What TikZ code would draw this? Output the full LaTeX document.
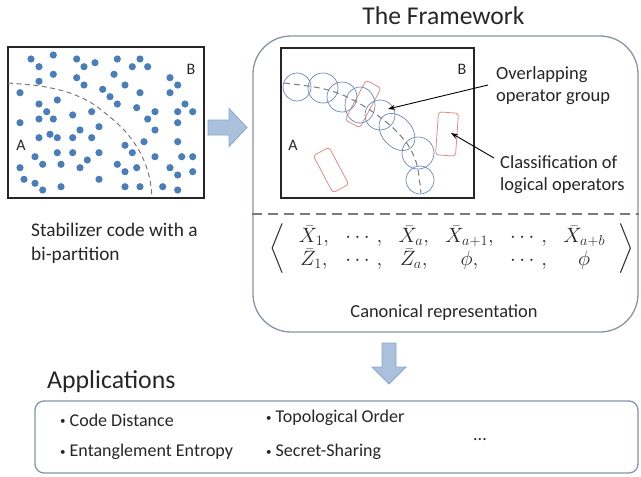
\documentclass[tikz,border=0pt]{standalone}
\usepackage[no-math]{fontspec}
\setmainfont{Carlito}
\usepackage{amsmath}
\definecolor{dotblue}{HTML}{4A7EBB}
\definecolor{circblue}{HTML}{6A88BD}
\definecolor{opred}{HTML}{E58A8A}
\definecolor{framegray}{HTML}{8594A6}
\definecolor{arrfill}{HTML}{A9C1DD}
\definecolor{arrdraw}{HTML}{8AA5C8}
\definecolor{dashgray}{HTML}{7A7A7A}
\definecolor{txt}{HTML}{262626}
\newcommand{\bul}{\raisebox{1.5pt}{\fontsize{11}{11}\selectfont•}\hspace{4pt}}
\tikzset{
  blackbox/.style={draw=black!85, line width=1.1pt},
  bigframe/.style={draw=framegray, line width=1.3pt},
  qdot/.style={fill=dotblue},
  opcirc/.style={draw=circblue, line width=0.7pt},
  oprect/.style={draw=opred, line width=0.8pt, rounded corners=3pt, minimum width=#1, inner sep=0pt},
  blockarrow/.style={fill=arrfill, draw=arrdraw, line width=0.8pt},
  lbl/.style={text=txt, inner sep=0pt},
  bulletfont/.style={font=\fontsize{18}{21}\selectfont},
  pointer/.style={-{Stealth[length=7pt,width=5pt]}, line width=0.9pt, black},
}
\usetikzlibrary{arrows.meta}
\begin{document}
\begin{tikzpicture}[x=1pt,y=-1pt]
\useasboundingbox (0,0) rectangle (641,477);
% ---------- left panel ----------
\node[blackbox, minimum width=196pt, minimum height=151pt, inner sep=0pt] (code) at (106,122.5) {};
\foreach \px/\py in {31/59,53.3/55,76.7/59,117.3/59,140/59,39/66.7,84/66.7,95/62.7,132.3/66.7,147.7/66.7,
 53.3/74.3,39/81.3,76.7/77.7,114/74.3,170/77.7,84/85,125/85,177.7/85,20/92.7,102.7/89.3,140/92.7,170/92.7,
 57.3/100,110/96.7,117.3/104,185/104,39/104,136.7/107.7,46.7/111.7,91.7/111.7,155/111.7,177.7/111.7,192.7/111.7,
 72.7/115,20/122.7,39/119,53.3/119,147.7/119,177.7/122.7,99/126.7,80/130,155/130,39/137.7,50/134.3,57.3/137.7,
 72.7/137.7,91.7/137.7,125/145.3,144/141.7,177.7/141.7,57.3/152.7,72.7/152.7,99/152.7,132.3/152.7,35/156.7,
 87.3/160,155/156.7,181.7/156.7,192.7/156.7,20/167.7,42.7/164.3,61/164.3,80/167.7,117.3/164.3,136.7/167.7,
 125/171.7,170/167.7,192.7/171.7,24/179.3,35/183.3,99/179.3,177.7/175,42.7/190,61/186.7,125/186.7,140/186.7,
 162.7/186.7,177.7/190}
  \fill[qdot] (\px,\py) circle (3.6pt);
\draw[dashgray, line width=1pt, dash pattern=on 5pt off 3.5pt]
  plot[smooth] coordinates {(8,83) (40,86) (67,92) (90,102) (110,117) (125,131) (137,147) (145,163) (150,180) (152,197)};
\node[lbl, font=\fontsize{16}{18}\selectfont] (lA) at (21,145) {A};
\node[lbl, font=\fontsize{16}{18}\selectfont] (lB) at (191,69) {B};
\node[lbl, font=\fontsize{19.3}{23.5}\selectfont, align=left, anchor=west] (stab) at (31,243.5) {Stabilizer code with a\\bi-partition};
% ---------- right block arrow ----------
\coordinate (ra) at (208,127.5);
\draw[blockarrow] (ra) ++(0,-7.5) -- ++(21,0) -- ++(0,-11.5) -- ++(18,19) -- ++(-18,19) -- ++(0,-11.5) -- ++(-21,0) -- cycle;
% ---------- framework ----------
\node[lbl, font=\fontsize{25.6}{30}\selectfont] (title) at (443.5,16) {The Framework};
\node[bigframe, rounded corners=38pt, minimum width=385pt, minimum height=296pt, inner sep=0pt] (fw) at (445.5,184) {};
\coordinate (sepy) at (0,214);
\draw[dashgray, line width=1.3pt, dash pattern=on 10pt off 6pt] (fw.west |- sepy) -- (fw.east |- sepy);
\node[blackbox, minimum width=193pt, minimum height=150pt, inner sep=0pt] (inner) at (377.5,123) {};
\node[lbl, font=\fontsize{16}{18}\selectfont] (iA) at (293,145) {A};
\node[lbl, font=\fontsize{16}{18}\selectfont] (iB) at (462,69) {B};
% red operator rectangles
\node[oprect=17pt, minimum height=45pt, rotate=-28] (r1) at (363,104) {};
\node[oprect=20pt, minimum height=43pt, rotate=-4] (r2) at (447,134) {};
\node[oprect=18pt, minimum height=42pt, rotate=28] (r3) at (331,170) {};
% blue overlapping group
\draw[opcirc] (297,87) circle (14pt);
\draw[opcirc] (323,88) circle (15pt);
\draw[opcirc] (342,97) circle (15pt);
\draw[opcirc] (360,105) ellipse [x radius=15pt, y radius=18pt];
\draw[opcirc] (380,115) circle (15pt);
\draw[opcirc, rotate around={-48:(397,132)}] (397,132) ellipse [x radius=21pt, y radius=15pt];
\draw[opcirc] (418,153) circle (16pt);
\draw[opcirc] (420,180) circle (14pt);
\draw[dashgray, line width=1pt, dash pattern=on 6pt off 4pt]
  plot[smooth] coordinates {(284,83) (320,88) (345,96) (370,110) (392,127) (408,145) (417,165) (421,193)};
% callouts
\node[lbl, font=\fontsize{18.5}{22}\selectfont, align=left, anchor=west] (ovl) at (496,86) {Overlapping\\operator group};
\node[lbl, font=\fontsize{18.5}{22}\selectfont, align=left, anchor=west] (cls) at (500,175) {Classification of\\logical operators};
\coordinate (ovltip) at (388,109);
\coordinate (clstip) at (451,133);
\coordinate (ovlstart) at (488,85);
\coordinate (clsstart) at (494,158);
\draw[pointer] (ovlstart) -- (ovltip);
\draw[pointer] (clsstart) -- (clstip);
% canonical representation
\node[lbl, font=\fontsize{20.5}{22}\selectfont] (canon) at (452,249)
 {$\left\langle\;\setlength{\arraycolsep}{8.2pt}\begin{array}{cccccc}
 \bar X_1, & \cdots, & \bar X_a, & \bar X_{a+1}, & \cdots, & \bar X_{a+b}\\
 \bar Z_1, & \cdots, & \bar Z_a, & \phi, & \cdots, & \phi
 \end{array}\;\right\rangle$};
\node[lbl, font=\fontsize{18.4}{22}\selectfont] (canlbl) at (444,313) {Canonical representation};
% ---------- down block arrow ----------
\coordinate (da) at (389,343);
\draw[blockarrow] (da) ++(-7,0) -- ++(14,0) -- ++(0,24) -- ++(10,0) -- ++(-17,17) -- ++(-17,-17) -- ++(10,0) -- cycle;
% ---------- applications ----------
\node[lbl, font=\fontsize{25.8}{30}\selectfont, anchor=west] (apps) at (47,382) {Applications};
\node[bigframe, rounded corners=9pt, minimum width=603pt, minimum height=72pt, inner sep=0pt] (appbox) at (336.5,437) {};
\node[lbl, bulletfont, anchor=west] (a1) at (60,420) {\bul Code Distance};
\node[lbl, bulletfont, anchor=west] (a2) at (60,452) {\bul Entanglement Entropy};
\node[lbl, bulletfont, anchor=west] (a3) at (266,418) {\bul Topological Order};
\node[lbl, bulletfont, anchor=west] (a4) at (266,452) {\bul Secret-Sharing};
\node[lbl, bulletfont, anchor=base] (a5) at (480,440) {...};
\end{tikzpicture}
\end{document}
